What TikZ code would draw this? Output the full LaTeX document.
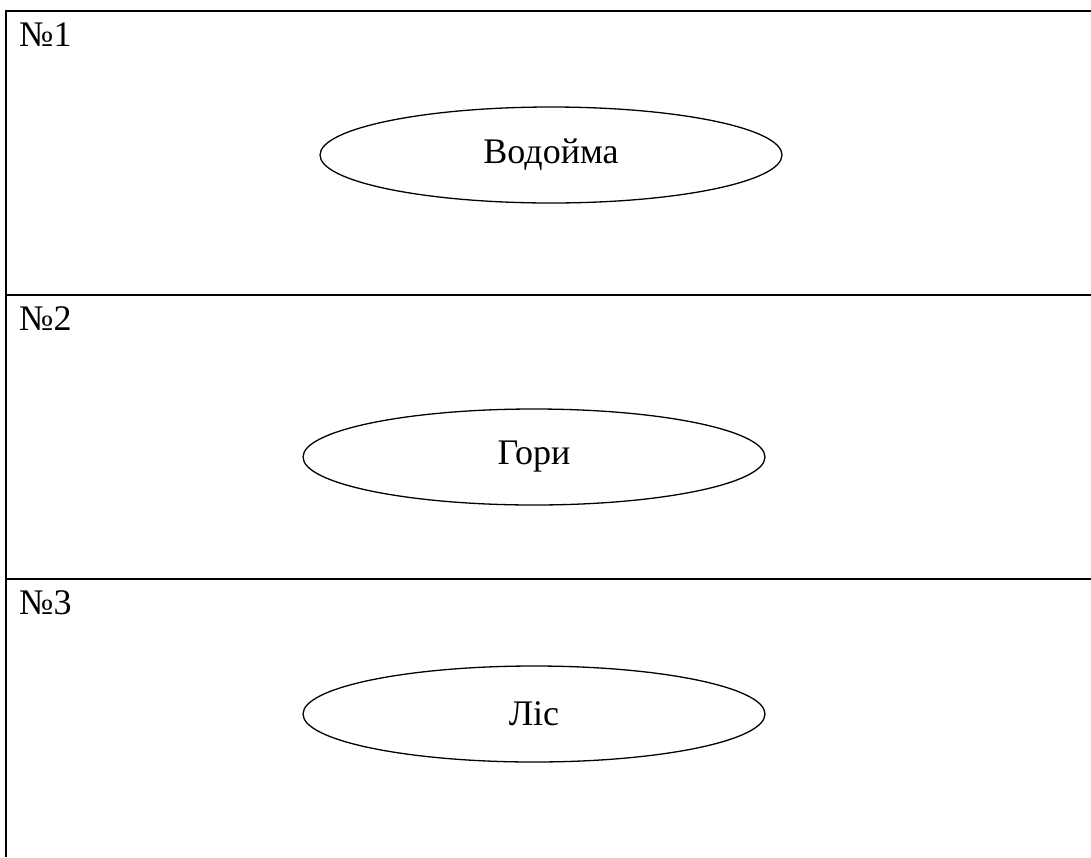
\documentclass[tikz,border=0pt]{standalone}
\usepackage{fontspec}
\setmainfont{Liberation Serif}
\usepackage{tikz}
\usetikzlibrary{shapes.geometric}
\tikzset{
  zone/.style={ellipse,draw,line width=1.3pt,inner sep=0pt,minimum width=462pt,minimum height=96pt,font=\fontsize{36}{40}\selectfont},
  num/.style={anchor=base west,inner sep=0pt,font=\fontsize{36}{40}\selectfont},
  rule/.style={line width=2.2pt}
}
\begin{document}
\begin{tikzpicture}[x=1pt,y=-1pt]
\useasboundingbox (0,0) rectangle (1091,857);
% frame and rows
\coordinate (tl) at (6,11);
\coordinate (tr) at (1091,11);
\coordinate (bl) at (6,857);
\coordinate (m1l) at (6,295);
\coordinate (m1r) at (1091,295);
\coordinate (m2l) at (6,579);
\coordinate (m2r) at (1091,579);
\draw[rule] (tr) -- (tl) -- (bl);
\draw[rule] (m1l) -- (m1r);
\draw[rule] (m2l) -- (m2r);
% labels
\node[num] (n1) at (19,46) {№1};
\node[num] (n2) at (19,330) {№2};
\node[num] (n3) at (19,614) {№3};
% ellipses
\node[zone] (water) at (551,155) {Водойма};
\node[zone] (hills) at (534,457) {Гори};
\node[zone] (wood) at (534,714) {Ліс};
\end{tikzpicture}
\end{document}
